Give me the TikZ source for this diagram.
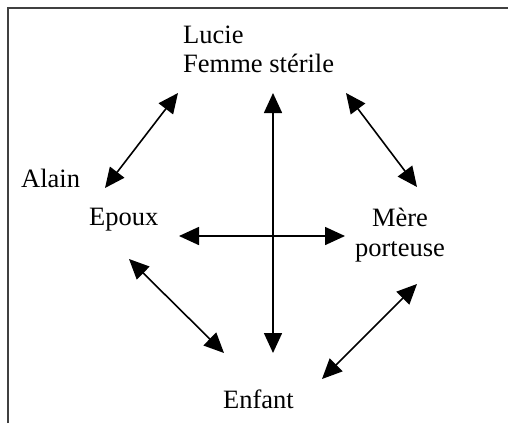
\documentclass[tikz,border=0pt]{standalone}
\usepackage{fontspec}
\setmainfont{Liberation Serif}
\usetikzlibrary{arrows.meta}
\begin{document}
\begin{tikzpicture}[x=1pt,y=-1pt,
  lbl/.style={inner sep=0pt, font=\fontsize{26.5}{30}\selectfont},
  dbl/.style={line width=1.6pt, {Triangle[length=20pt,width=18pt]}-{Triangle[length=20pt,width=18pt]}},
  frameline/.style={line width=1.8pt, black!75}]
\useasboundingbox (0,0) rectangle (508,423);
\fill[white] (0,0) rectangle (508,423);
\draw[frameline] (8,423) -- (8,8) -- (508,8);
% texts
\node[lbl, anchor=base west] (lucie) at (183,43) {Lucie};
\node[lbl, anchor=base west] (femme) at (183,72) {Femme stérile};
\node[lbl, anchor=base west] (alain) at (21,187) {Alain};
\node[lbl, anchor=base west] (epoux) at (89,225) {Epoux};
\node[lbl, anchor=base] (mere) at (400,226) {Mère};
\node[lbl, anchor=base] (porteuse) at (400,256) {porteuse};
\node[lbl, anchor=base west] (enfant) at (223,408) {Enfant};
% arrow ends
\coordinate (a1) at (178,93);  \coordinate (a2) at (105,188);
\coordinate (v1) at (273,93);  \coordinate (v2) at (273,353);
\coordinate (b1) at (346,93);  \coordinate (b2) at (417,187);
\coordinate (h1) at (179,236); \coordinate (h2) at (345,236);
\coordinate (c1) at (129,259); \coordinate (c2) at (224,353);
\coordinate (d1) at (417,284); \coordinate (d2) at (322,379);
\draw[dbl] (a1) -- (a2);
\draw[dbl] (v1) -- (v2);
\draw[dbl] (b1) -- (b2);
\draw[dbl] (h1) -- (h2);
\draw[dbl] (c1) -- (c2);
\draw[dbl] (d1) -- (d2);
\end{tikzpicture}
\end{document}
